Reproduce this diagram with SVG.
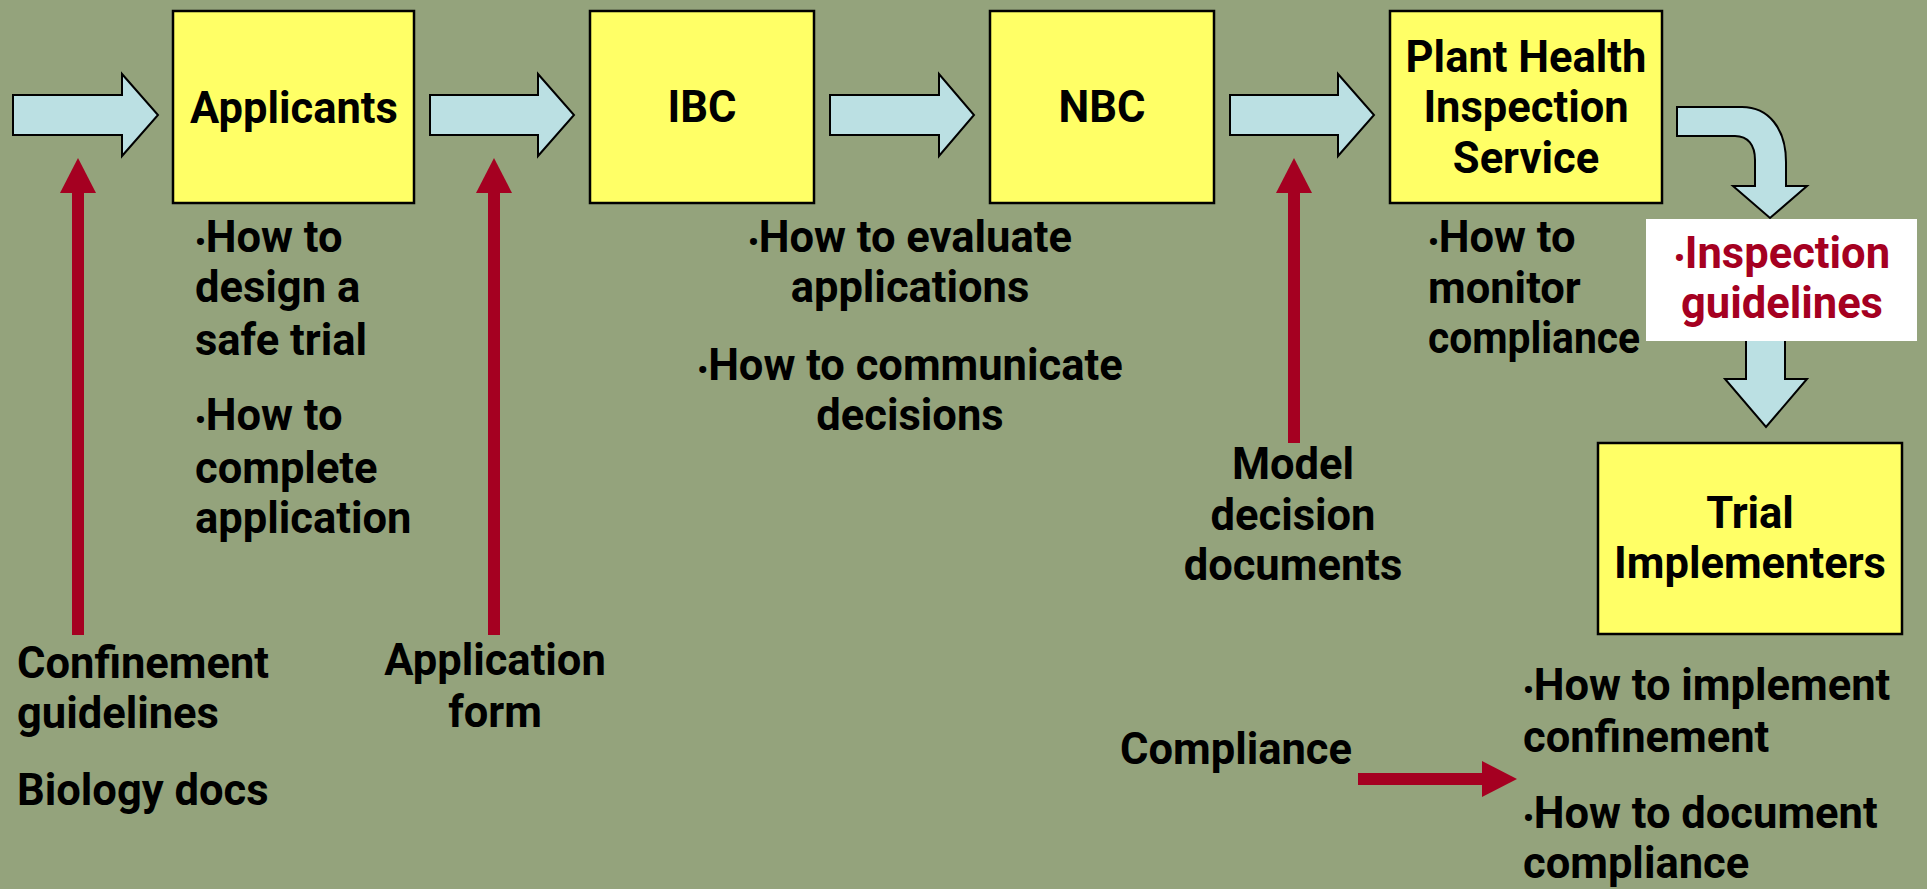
<svg xmlns="http://www.w3.org/2000/svg" width="1927" height="889" viewBox="0 0 1927 889">
<style>
.bg{fill:#94A37C}
.box{fill:#FFFF66;stroke:#000;stroke-width:2.5}
.blk{fill:#BBE0E3;stroke:#000;stroke-width:2;stroke-linejoin:miter}
.red{stroke:#A50021;stroke-width:12;fill:none}
text{font-family:Roboto,"Liberation Sans",sans-serif;font-weight:bold;font-size:43.5px;fill:#000}
.c{text-anchor:middle}
.rt{fill:#A50021}
.b{font-size:30px}
</style>
<defs>
<marker id="rh" markerUnits="userSpaceOnUse" viewBox="0 -18 36 36" refX="1" refY="0" markerWidth="36" markerHeight="36" orient="auto">
<path d="M0,-18 L35,0 L0,18 z" fill="#A50021"/>
</marker>
</defs>
<rect class="bg" x="0" y="0" width="1927" height="889"/>

<g id="connectors">
<polygon class="blk" points="13,95 122,95 122,74 158,115 122,156 122,135 13,135"/>
<polygon class="blk" points="430,95 538,95 538,74 574,115 538,156 538,135 430,135"/>
<polygon class="blk" points="830,95 939,95 939,74 974,115 939,156 939,135 830,135"/>
<polygon class="blk" points="1230,95 1338,95 1338,74 1374,115 1338,156 1338,135 1230,135"/>
<path class="blk" d="M1677,107 L1742,107 C1768,107 1786,128 1786,162 L1786,186 L1807,186 L1770,218 L1733,186 L1755,186 L1755,160 C1755,145 1748,136 1735,136 L1677,136 Z"/>
<polygon class="blk" points="1746,320 1785,320 1785,379 1807,379 1766,427 1725,379 1746,379"/>
<line class="red" x1="78" y1="635" x2="78" y2="192" marker-end="url(#rh)"/>
<line class="red" x1="494" y1="635" x2="494" y2="192" marker-end="url(#rh)"/>
<line class="red" x1="1294" y1="443" x2="1294" y2="192" marker-end="url(#rh)"/>
<line class="red" x1="1358" y1="779" x2="1483" y2="779" marker-end="url(#rh)"/>
</g>

<g id="applicants">
<rect class="box" x="173" y="11" width="241" height="192"/>
<text class="c" x="294" y="123">Applicants</text>
</g>
<g id="ibc">
<rect class="box" x="590" y="11" width="224" height="192"/>
<text class="c" x="702" y="122">IBC</text>
</g>
<g id="nbc">
<rect class="box" x="990" y="11" width="224" height="192"/>
<text class="c" x="1102" y="122">NBC</text>
</g>
<g id="phis">
<rect class="box" x="1390" y="11" width="272" height="192"/>
<text class="c" x="1526" y="72">Plant Health</text>
<text class="c" x="1526" y="122">Inspection</text>
<text class="c" x="1526" y="173">Service</text>
</g>
<g id="trial">
<rect class="box" x="1598" y="443" width="304" height="191"/>
<text class="c" x="1750" y="528">Trial</text>
<text class="c" x="1750" y="578">Implementers</text>
</g>

<g id="inspection-guidelines">
<rect x="1646" y="219" width="271" height="122" fill="#FFFFFF"/>
<text class="c rt" x="1782" y="268"><tspan class="b">•</tspan>Inspection</text>
<text class="c rt" x="1782" y="318">guidelines</text>
</g>

<g id="applicant-notes">
<text x="195" y="252"><tspan class="b">•</tspan>How to</text>
<text x="195" y="302">design a</text>
<text x="195" y="355">safe trial</text>
<text x="195" y="430"><tspan class="b">•</tspan>How to</text>
<text x="195" y="483">complete</text>
<text x="195" y="533">application</text>
</g>
<g id="board-notes">
<text class="c" x="910" y="252"><tspan class="b">•</tspan>How to evaluate</text>
<text class="c" x="910" y="302">applications</text>
<text class="c" x="910" y="380"><tspan class="b">•</tspan>How to communicate</text>
<text class="c" x="910" y="430">decisions</text>
</g>
<g id="phis-notes">
<text x="1428" y="252"><tspan class="b">•</tspan>How to</text>
<text x="1428" y="303">monitor</text>
<text x="1428" y="353" textLength="212" lengthAdjust="spacingAndGlyphs">compliance</text>
</g>
<g id="trial-notes">
<text x="1523" y="700"><tspan class="b">•</tspan>How to implement</text>
<text x="1523" y="752">confinement</text>
<text x="1523" y="828"><tspan class="b">•</tspan>How to document</text>
<text x="1523" y="878">compliance</text>
</g>
<g id="confinement-guidelines">
<text x="17" y="678">Confinement</text>
<text x="17" y="728">guidelines</text>
<text x="17" y="805">Biology docs</text>
</g>
<g id="application-form">
<text class="c" x="495" y="675">Application</text>
<text class="c" x="495" y="727">form</text>
</g>
<g id="model-docs">
<text class="c" x="1293" y="479">Model</text>
<text class="c" x="1293" y="530">decision</text>
<text class="c" x="1293" y="580">documents</text>
</g>
<g id="compliance">
<text x="1120" y="764">Compliance</text>
</g>
</svg>
